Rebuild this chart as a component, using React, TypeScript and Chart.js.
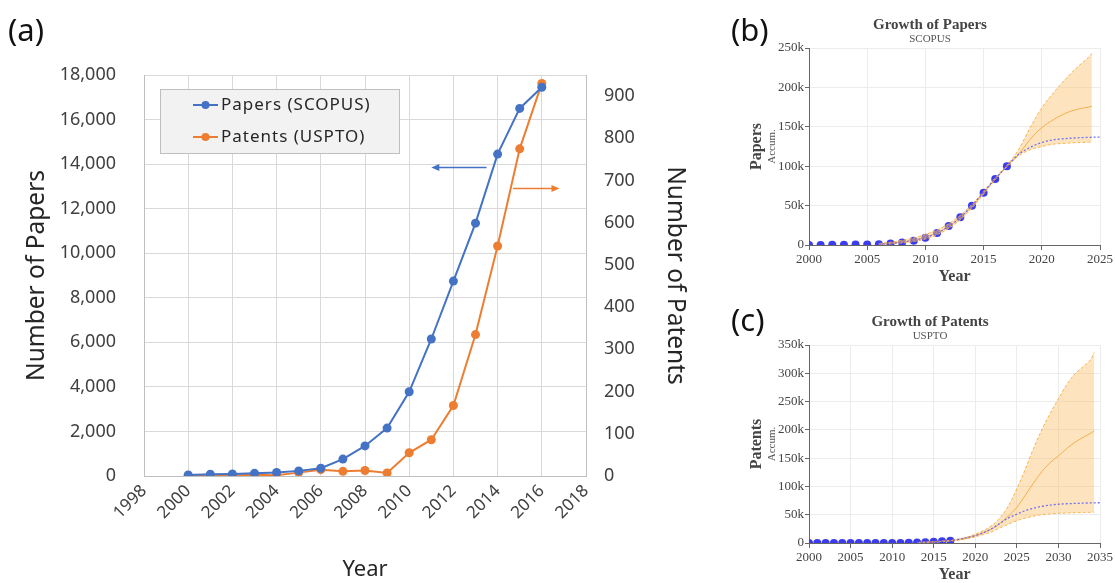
import React, { useEffect, useRef } from 'react';
import { Chart, registerables } from 'chart.js';

Chart.register(...registerables);

// ---------------- Panel (a) data ----------------
const yearsA = [2000, 2001, 2002, 2003, 2004, 2005, 2006, 2007, 2008, 2009, 2010, 2011, 2012, 2013, 2014, 2015, 2016];
const papersA = [50, 80, 90, 120, 160, 230, 350, 760, 1350, 2150, 3780, 6150, 8750, 11350, 14450, 16500, 17450];
const patentsA = [1, 0, 1, 3, 2, 8, 15, 11, 13, 7, 55, 86, 167, 335, 545, 775, 930];
const xMinA = 1998;
const xMaxA = 2018;
const xStepA = 2;
const papersAxisMax = 18000;
const papersAxisStep = 2000;
const patentsAxisMax = 950;
const patentsAxisStep = 100;
const papersArrow = { fromYear: 2013.5, toYear: 2011.0, value: 13870 };
const patentsArrow = { fromYear: 2014.7, toYear: 2016.8, value: 682 };

// ---------------- Panel (b) data ----------------
const yearsB = [2000, 2001, 2002, 2003, 2004, 2005, 2006, 2007, 2008, 2009, 2010, 2011, 2012, 2013, 2014, 2015, 2016, 2017];
const papersAccumB = [50, 130, 220, 340, 500, 730, 1080, 1840, 3190, 5340, 9120, 15270, 24020, 35370, 49820, 66320, 83770, 100000];
const fitYearsB = [2006, 2007, 2008, 2009, 2010, 2011, 2012, 2013, 2014, 2015, 2016, 2017, 2018, 2019, 2020, 2021, 2022, 2023, 2024, 2024.3];
const fitMidB = [1200, 2200, 3800, 6300, 10000, 15500, 23500, 34500, 49000, 66000, 84000, 100000, 115000, 134000, 149000, 159000, 167000, 172000, 175000, 176000];
const fitUpperB = [1800, 3500, 6000, 9000, 13500, 19000, 27000, 37500, 51500, 68000, 85500, 101000, 121000, 149000, 174000, 193000, 210000, 225000, 238000, 243000];
const fitLowerB = [600, 1300, 2500, 4500, 7500, 13000, 21000, 32000, 47000, 64500, 83000, 99000, 113000, 121000, 125000, 128000, 129000, 130000, 130500, 131000];
const logisticYearsB = [2006, 2007, 2008, 2009, 2010, 2011, 2012, 2013, 2014, 2015, 2016, 2017, 2018, 2019, 2020, 2021, 2022, 2023, 2024, 2025];
const logisticB = [1000, 2000, 3500, 6000, 9500, 15000, 23500, 35000, 50000, 67000, 84000, 100000, 115000, 124000, 130000, 133500, 135000, 136000, 136600, 137000];

// ---------------- Panel (c) data ----------------
const yearsC = [2000, 2001, 2002, 2003, 2004, 2005, 2006, 2007, 2008, 2009, 2010, 2011, 2012, 2013, 2014, 2015, 2016, 2017];
const patentsAccumC = [1, 1, 2, 5, 7, 15, 30, 41, 54, 61, 116, 202, 369, 704, 1249, 2024, 2954, 4000];
const fitYearsC = [2013, 2014, 2015, 2016, 2017, 2018, 2019, 2020, 2021, 2022, 2023, 2024, 2025, 2026, 2027, 2028, 2029, 2030, 2031, 2032, 2033, 2034, 2034.3];
const fitMidC = [800, 1300, 2000, 2900, 4000, 6000, 9000, 13000, 18500, 25000, 35000, 48000, 63000, 84000, 106000, 126000, 142000, 154000, 167000, 178000, 187000, 195000, 198000];
const fitUpperC = [1000, 1600, 2400, 3400, 4600, 7000, 10500, 15500, 22000, 31000, 45000, 66000, 96000, 130000, 167000, 200000, 229000, 255000, 280000, 299000, 312000, 327000, 337000];
const fitLowerC = [600, 1000, 1600, 2400, 3400, 5000, 7500, 11000, 15000, 20000, 27000, 33500, 39500, 44000, 47500, 50000, 51500, 52400, 53000, 53500, 54000, 54500, 54700];
const logisticYearsC = [2013, 2014, 2015, 2016, 2017, 2018, 2019, 2020, 2021, 2022, 2023, 2024, 2025, 2026, 2027, 2028, 2029, 2030, 2031, 2032, 2033, 2034, 2035];
const logisticC = [700, 1200, 2000, 3000, 4200, 6500, 9500, 13000, 18500, 25500, 35000, 44500, 51000, 57000, 61500, 64800, 67000, 68500, 69400, 70000, 70500, 70900, 71200];

// ---------------- styles ----------------
const BLUE = '#4472C4';
const ORANGE = '#ED7D31';
const SANS = '"Noto Sans", "Open Sans", sans-serif';
const SERIF = '"Liberation Serif", "DejaVu Serif", serif';
const BAND = 'rgba(252, 196, 110, 0.45)';
const BOUND = 'rgba(247, 170, 60, 0.9)';
const MIDLINE = 'rgba(240, 165, 60, 0.85)';
const LOGI = 'rgba(100, 100, 240, 0.9)';
const DOT = 'rgb(60, 60, 238)';

const pts = (xs: number[], ys: number[]) => xs.map((x, i) => ({ x, y: ys[i] }));

function makeArrowPlugin() {
  const items = [
    { ...papersArrow, axis: 'yL', color: BLUE },
    { ...patentsArrow, axis: 'yR', color: ORANGE },
  ];
  return {
    id: 'arrows',
    afterDatasetsDraw(chart: any) {
      const { ctx, scales } = chart;
      items.forEach((it) => {
        const y = Math.round(scales[it.axis].getPixelForValue(it.value)) + 0.5;
        const x1 = scales.x.getPixelForValue(it.fromYear);
        const x2 = scales.x.getPixelForValue(it.toYear);
        const dir = Math.sign(x2 - x1);
        ctx.save();
        ctx.strokeStyle = it.color;
        ctx.fillStyle = it.color;
        ctx.lineWidth = 1.3;
        ctx.beginPath();
        ctx.moveTo(x1, y);
        ctx.lineTo(x2 - dir * 7, y);
        ctx.stroke();
        ctx.beginPath();
        ctx.moveTo(x2, y);
        ctx.lineTo(x2 - dir * 8, y - 3.5);
        ctx.lineTo(x2 - dir * 8, y + 3.5);
        ctx.closePath();
        ctx.fill();
        ctx.restore();
      });
    },
  };
}

const boxLegendPlugin = {
  id: 'boxLegend',
  afterDraw(chart: any) {
    const { ctx, chartArea } = chart;
    const x = chartArea.left + 16;
    const y = chartArea.top + 14;
    const w = 239;
    const h = 64;
    ctx.save();
    ctx.fillStyle = '#f2f2f2';
    ctx.fillRect(x, y, w, h);
    ctx.strokeStyle = '#bfbfbf';
    ctx.lineWidth = 1;
    ctx.strokeRect(x + 0.5, y + 0.5, w, h);
    chart.data.datasets.forEach((ds: any, i: number) => {
      const cy = y + 16 + i * 32;
      ctx.strokeStyle = ds.borderColor;
      ctx.lineWidth = 2;
      ctx.beginPath();
      ctx.moveTo(x + 33, cy);
      ctx.lineTo(x + 58, cy);
      ctx.stroke();
      ctx.fillStyle = ds.borderColor;
      ctx.beginPath();
      ctx.arc(x + 45.5, cy, 4, 0, Math.PI * 2);
      ctx.fill();
      ctx.fillStyle = '#262626';
      ctx.font = `17px ${SANS}`;
      (ctx as any).letterSpacing = '1px';
      ctx.textAlign = 'left';
      ctx.textBaseline = 'middle';
      ctx.fillText(ds.label, x + 61, cy);
      (ctx as any).letterSpacing = '0px';
    });
    ctx.restore();
  },
};

function makeGrowthTextPlugin(title: string, subtitle: string, yTitle: string) {
  return {
    id: 'growthText',
    afterDraw(chart: any) {
      const { ctx, chartArea: a, width } = chart;
      ctx.save();
      ctx.textAlign = 'center';
      ctx.textBaseline = 'middle';
      ctx.fillStyle = '#444';
      ctx.font = `bold 15px ${SERIF}`;
      ctx.fillText(title, width / 2, a.top - 23);
      ctx.fillStyle = '#555';
      ctx.font = `11px ${SERIF}`;
      ctx.fillText(subtitle, width / 2, a.top - 8.5);
      ctx.fillStyle = '#444';
      ctx.font = `bold 16px ${SERIF}`;
      ctx.fillText('Year', (a.left + a.right) / 2, a.bottom + 32);
      const cy = (a.top + a.bottom) / 2;
      ctx.translate(12, cy);
      ctx.rotate(-Math.PI / 2);
      ctx.fillText(yTitle, 0, 0);
      ctx.fillStyle = '#555';
      ctx.font = `11px ${SERIF}`;
      ctx.fillText('Accum.', 0, 15);
      ctx.restore();
    },
  };
}

function growthConfig(p: any): any {
  return {
    type: 'line',
    data: {
      datasets: [
        { data: pts(p.fitYears, p.lower), borderColor: BOUND, borderWidth: 1, borderDash: [3, 2], pointRadius: 0, fill: false, order: 4, cubicInterpolationMode: 'monotone' },
        { data: pts(p.fitYears, p.upper), borderColor: BOUND, borderWidth: 1, borderDash: [3, 2], pointRadius: 0, fill: '-1', backgroundColor: BAND, order: 3, cubicInterpolationMode: 'monotone' },
        { data: pts(p.fitYears, p.mid), borderColor: MIDLINE, borderWidth: 1, pointRadius: 0, fill: false, order: 2, cubicInterpolationMode: 'monotone' },
        { data: pts(p.logYears, p.logistic), borderColor: LOGI, borderWidth: 1.3, borderDash: [2, 2], pointRadius: 0, fill: false, order: 1, cubicInterpolationMode: 'monotone' },
        { data: pts(p.actualYears, p.actual), showLine: false, pointRadius: 4, pointBackgroundColor: DOT, pointBorderWidth: 0, borderColor: DOT, order: 5 },
      ],
    },
    options: {
      responsive: false,
      animation: false,
      devicePixelRatio: 1,
      layout: { padding: { top: p.top, right: 13, left: 0, bottom: 0 } },
      plugins: { legend: { display: false }, tooltip: { enabled: false } },
      scales: {
        x: {
          type: 'linear',
          min: 2000,
          max: p.xMax,
          afterFit: (s: any) => { s.height = p.xHeight; },
          ticks: { stepSize: 5, autoSkip: false, maxRotation: 0, minRotation: 0, padding: 2, color: '#444', font: { family: SERIF, size: 13 }, callback: (v: any) => String(v) },
          grid: { color: '#ececec', tickColor: '#666', tickLength: 5 },
          border: { color: '#666' },
        },
        y: {
          type: 'linear',
          min: 0,
          max: p.yMax,
          afterFit: (s: any) => { s.width = 64; },
          ticks: { stepSize: 50000, padding: 1, color: '#444', font: { family: SERIF, size: 13 }, callback: (v: any) => (v === 0 ? '0' : `${v / 1000}k`) },
          grid: { color: '#ececec', tickColor: '#666', tickLength: 4 },
          border: { color: '#666' },
        },
      },
    },
    plugins: [makeGrowthTextPlugin(p.title, p.subtitle, p.yTitle)],
  };
}

export default function App() {
  const refA = useRef<HTMLCanvasElement>(null);
  const refB = useRef<HTMLCanvasElement>(null);
  const refC = useRef<HTMLCanvasElement>(null);

  useEffect(() => {
    const charts: Chart[] = [];
    const tickFont = { family: SANS, size: 18 };
    charts.push(
      new Chart(refA.current as HTMLCanvasElement, {
        type: 'line',
        data: {
          datasets: [
            { label: 'Papers (SCOPUS)', data: pts(yearsA, papersA), borderColor: BLUE, backgroundColor: BLUE, borderWidth: 2, pointRadius: 4.5, pointBorderWidth: 0, yAxisID: 'yL', tension: 0 },
            { label: 'Patents (USPTO)', data: pts(yearsA, patentsA), borderColor: ORANGE, backgroundColor: ORANGE, borderWidth: 2, pointRadius: 4.5, pointBorderWidth: 0, yAxisID: 'yR', tension: 0 },
          ],
        },
        options: {
          responsive: false,
          animation: false,
          devicePixelRatio: 1,
          layout: { padding: { top: 75, left: 0, right: 0, bottom: 0 } },
          plugins: { legend: { display: false }, tooltip: { enabled: false } },
          scales: {
            x: {
              type: 'linear',
              min: xMinA,
              max: xMaxA,
              afterFit: (s: any) => { s.height = 107; },
              ticks: { stepSize: xStepA, autoSkip: false, minRotation: 45, maxRotation: 45, padding: 5, color: '#404040', font: { family: SANS, size: 17 }, callback: (v: any) => String(v) },
              grid: { color: '#d9d9d9', drawTicks: false },
              border: { color: '#bfbfbf' },
              title: { display: true, text: 'Year', color: '#262626', font: { family: SANS, size: 22 }, padding: 0 },
            },
            yL: {
              type: 'linear',
              position: 'left',
              min: 0,
              max: papersAxisMax,
              afterFit: (s: any) => { s.width = 144; },
              ticks: { stepSize: papersAxisStep, padding: 28, color: '#404040', font: tickFont, callback: (v: any) => Number(v).toLocaleString('en-US') },
              grid: { color: '#d9d9d9', drawTicks: false },
              border: { color: '#bfbfbf' },
              title: { display: true, text: 'Number of Papers', color: '#262626', font: { family: SANS, size: 24.5 }, padding: { top: 22, bottom: 0 } },
            },
            yR: {
              type: 'linear',
              position: 'right',
              min: 0,
              max: patentsAxisMax,
              afterFit: (s: any) => { s.width = 114; },
              ticks: { stepSize: patentsAxisStep, includeBounds: false, padding: 18, color: '#404040', font: tickFont },
              grid: { display: false, drawTicks: false },
              border: { color: '#bfbfbf' },
              title: { display: true, text: 'Number of Patents', color: '#262626', font: { family: SANS, size: 24.5 }, padding: { top: 10, bottom: 0 } },
            },
          },
        },
        plugins: [makeArrowPlugin(), boxLegendPlugin],
      } as any)
    );

    charts.push(
      new Chart(refB.current as HTMLCanvasElement, growthConfig({
        actualYears: yearsB, actual: papersAccumB,
        fitYears: fitYearsB, mid: fitMidB, upper: fitUpperB, lower: fitLowerB,
        logYears: logisticYearsB, logistic: logisticB,
        xMax: 2025, yMax: 250000, top: 48, xHeight: 45,
        title: 'Growth of Papers', subtitle: 'SCOPUS', yTitle: 'Papers',
      }))
    );

    charts.push(
      new Chart(refC.current as HTMLCanvasElement, growthConfig({
        actualYears: yearsC, actual: patentsAccumC,
        fitYears: fitYearsC, mid: fitMidC, upper: fitUpperC, lower: fitLowerC,
        logYears: logisticYearsC, logistic: logisticC,
        xMax: 2035, yMax: 350000, top: 55, xHeight: 40,
        title: 'Growth of Patents', subtitle: 'USPTO', yTitle: 'Patents',
      }))
    );

    return () => charts.forEach((c) => c.destroy());
  }, []);

  const label = (text: string, left: number, top: number) => (
    <div style={{ position: 'absolute', left, top, fontFamily: SANS, fontSize: 31, lineHeight: '36px', color: '#111' }}>{text}</div>
  );

  return (
    <div style={{ position: 'fixed', left: 0, top: 0, width: 1115, height: 583, background: '#fff', overflow: 'hidden' }}>
      <canvas ref={refA} width={700} height={583} style={{ position: 'absolute', left: 0, top: 0 }} />
      <canvas ref={refB} width={370} height={290} style={{ position: 'absolute', left: 745, top: 0 }} />
      <canvas ref={refC} width={370} height={293} style={{ position: 'absolute', left: 745, top: 290 }} />
      {label('(a)', 8, 11)}
      {label('(b)', 731, 11)}
      {label('(c)', 731, 301)}
    </div>
  );
}
